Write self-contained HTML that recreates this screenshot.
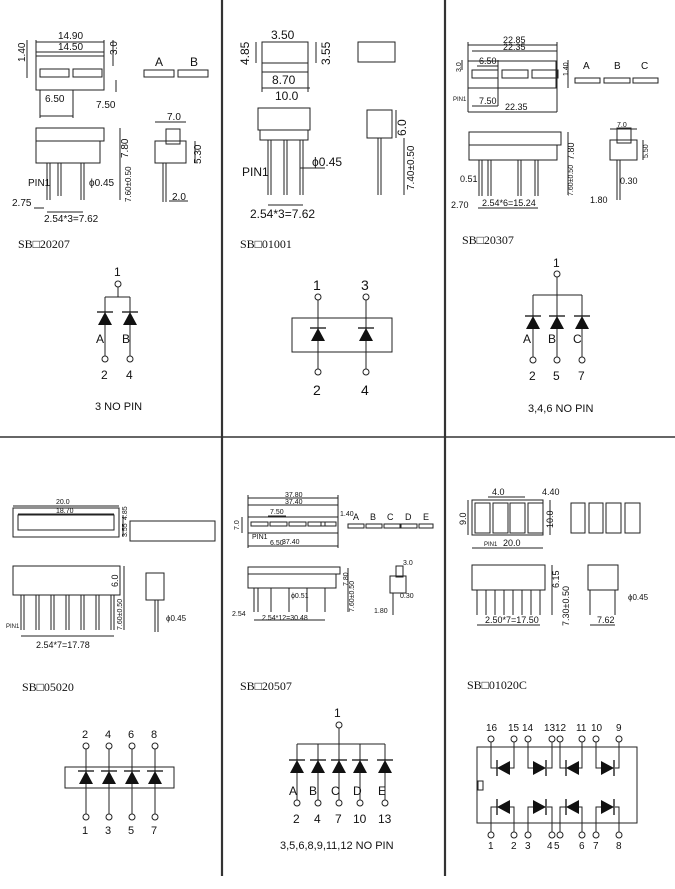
<!DOCTYPE html>
<html><head><meta charset="utf-8"><style>
html,body{margin:0;padding:0;background:#fff}
svg{display:block}
text{font-family:"Liberation Sans",sans-serif;fill:#111}
.s{font-size:9px}
.p1{font-size:10px}
.m{font-size:12px}
.l{font-family:"Liberation Serif","Noto Serif CJK SC",serif;font-size:12px}
</style></head><body>
<svg width="675" height="889" viewBox="0 0 675 889" xmlns="http://www.w3.org/2000/svg">
<defs>
<g id="du"><polygon points="-7,8 7,8 0,-5" fill="#111"/><line x1="-8" y1="-5" x2="8" y2="-5" stroke="#111" stroke-width="1.3"/></g>
<g id="dl"><polygon points="7,-7 7,7 -6,0" fill="#111"/><line x1="-6" y1="-8" x2="-6" y2="8" stroke="#111" stroke-width="1.3"/></g>
<g id="dr"><polygon points="-7,-7 -7,7 6,0" fill="#111"/><line x1="6" y1="-8" x2="6" y2="8" stroke="#111" stroke-width="1.3"/></g>
</defs>
<rect width="675" height="889" fill="#fff"/>
<g stroke="#333" stroke-width="2.2">
<line x1="222" y1="0" x2="222" y2="876"/>
<line x1="445" y1="0" x2="445" y2="876"/>
<line x1="0" y1="437" x2="675" y2="437" stroke-width="1.6"/>
</g>

<g fill="none" stroke="#222" stroke-width="1">
<rect x="36" y="56" width="68" height="34"/>
<rect x="40" y="69" width="29" height="8"/><rect x="73" y="69" width="29" height="8"/>
<line x1="36" y1="42" x2="104" y2="42"/><line x1="36" y1="52" x2="104" y2="52"/>
<line x1="36" y1="40" x2="36" y2="56"/><line x1="104" y1="40" x2="104" y2="56"/>
<line x1="40" y1="116" x2="73" y2="116"/><line x1="40" y1="90" x2="40" y2="118"/><line x1="73" y1="90" x2="73" y2="118"/>
<line x1="27" y1="40" x2="27" y2="78"/><line x1="113" y1="40" x2="113" y2="66"/><line x1="116" y1="80" x2="116" y2="92"/>
<rect x="144" y="70" width="30" height="7"/><rect x="178" y="70" width="30" height="7"/>
<rect x="36" y="128" width="68" height="13"/><rect x="36" y="141" width="64" height="22"/>
<line x1="47" y1="163" x2="47" y2="200"/><line x1="50" y1="163" x2="50" y2="200"/>
<line x1="58" y1="163" x2="58" y2="196"/><line x1="61" y1="163" x2="61" y2="196"/>
<line x1="81" y1="163" x2="81" y2="200"/><line x1="84" y1="163" x2="84" y2="200"/>
<line x1="120" y1="128" x2="120" y2="168"/><line x1="120" y1="168" x2="120" y2="200"/>
<line x1="47" y1="212" x2="83" y2="212"/><line x1="34" y1="208" x2="44" y2="208"/>
<rect x="155" y="141" width="31" height="22"/><rect x="166" y="129" width="14" height="15"/>
<line x1="163" y1="163" x2="163" y2="202"/><line x1="166" y1="163" x2="166" y2="202"/>
<line x1="155" y1="122" x2="186" y2="122"/><line x1="195" y1="141" x2="195" y2="163"/>
<line x1="169" y1="201" x2="188" y2="201"/>
<circle cx="118" cy="284" r="3"/><line x1="118" y1="287" x2="118" y2="297"/>
<line x1="105" y1="297" x2="130" y2="297"/>
<line x1="105" y1="297" x2="105" y2="356"/><line x1="130" y1="297" x2="130" y2="356"/>
<circle cx="105" cy="359" r="3"/><circle cx="130" cy="359" r="3"/>

<rect x="262" y="42" width="46" height="21"/>
<line x1="262" y1="72" x2="308" y2="72"/><line x1="262" y1="88" x2="310" y2="88"/>
<line x1="262" y1="63" x2="262" y2="92"/><line x1="308" y1="63" x2="308" y2="92"/>
<line x1="256" y1="42" x2="256" y2="63"/><line x1="316" y1="42" x2="316" y2="63"/>
<rect x="358" y="42" width="37" height="20"/>
<rect x="258" y="108" width="52" height="22"/><rect x="260" y="130" width="48" height="10"/>
<line x1="268" y1="140" x2="268" y2="195"/><line x1="271" y1="140" x2="271" y2="195"/>
<line x1="284" y1="140" x2="284" y2="195"/><line x1="287" y1="140" x2="287" y2="195"/>
<line x1="300" y1="140" x2="300" y2="195"/><line x1="303" y1="140" x2="303" y2="195"/>
<line x1="268" y1="205" x2="303" y2="205"/>
<rect x="367" y="110" width="25" height="28"/>
<line x1="378" y1="138" x2="378" y2="195"/><line x1="381" y1="138" x2="381" y2="195"/>
<line x1="396" y1="110" x2="396" y2="138"/><line x1="404" y1="138" x2="404" y2="195"/>
<line x1="300" y1="168" x2="325" y2="168"/>
<rect x="292" y="318" width="100" height="34"/>
<circle cx="318" cy="297" r="3"/><circle cx="366" cy="297" r="3"/>
<circle cx="318" cy="372" r="3"/><circle cx="366" cy="372" r="3"/>
<line x1="318" y1="300" x2="318" y2="369"/><line x1="366" y1="300" x2="366" y2="369"/>

<rect x="468" y="61" width="88" height="27"/>
<rect x="472" y="70" width="26" height="8"/><rect x="502" y="70" width="26" height="8"/><rect x="532" y="70" width="26" height="8"/>
<line x1="468" y1="45" x2="557" y2="45"/><line x1="472" y1="51" x2="557" y2="51"/>
<line x1="468" y1="42" x2="468" y2="112"/><line x1="557" y1="42" x2="557" y2="112"/>
<line x1="477" y1="66" x2="498" y2="66"/><line x1="498" y1="60" x2="498" y2="106"/>
<line x1="472" y1="106" x2="498" y2="106"/><line x1="468" y1="112" x2="557" y2="112"/>
<line x1="462" y1="60" x2="462" y2="70"/><line x1="568" y1="60" x2="568" y2="88"/>
<rect x="575" y="78" width="25" height="5"/><rect x="604" y="78" width="26" height="5"/><rect x="633" y="78" width="25" height="5"/>
<rect x="469" y="132" width="92" height="13"/><rect x="469" y="145" width="88" height="15"/>
<line x1="479" y1="160" x2="479" y2="196"/><line x1="482" y1="160" x2="482" y2="196"/>
<line x1="488" y1="160" x2="488" y2="196"/><line x1="491" y1="160" x2="491" y2="196"/>
<line x1="518" y1="160" x2="518" y2="196"/><line x1="521" y1="160" x2="521" y2="196"/>
<line x1="535" y1="160" x2="535" y2="196"/><line x1="538" y1="160" x2="538" y2="196"/>
<line x1="568" y1="132" x2="568" y2="195"/><line x1="478" y1="208" x2="538" y2="208"/>
<rect x="610" y="140" width="27" height="20"/><rect x="617" y="128" width="14" height="15"/>
<line x1="617" y1="160" x2="617" y2="200"/><line x1="620" y1="160" x2="620" y2="200"/>
<line x1="610" y1="129" x2="637" y2="129"/><line x1="643" y1="140" x2="643" y2="160"/>
<circle cx="557" cy="274" r="3"/><line x1="557" y1="277" x2="557" y2="295"/>
<line x1="533" y1="295" x2="582" y2="295"/>
<line x1="533" y1="295" x2="533" y2="357"/><line x1="557" y1="295" x2="557" y2="357"/><line x1="582" y1="295" x2="582" y2="357"/>
<circle cx="533" cy="360" r="3"/><circle cx="557" cy="360" r="3"/><circle cx="582" cy="360" r="3"/>

<rect x="13" y="508" width="106" height="29"/><rect x="18" y="515" width="96" height="15"/>
<line x1="13" y1="506" x2="119" y2="506"/><line x1="18" y1="514" x2="114" y2="514"/>
<line x1="123" y1="515" x2="123" y2="537"/>
<rect x="130" y="521" width="85" height="20"/>
<rect x="13" y="566" width="107" height="29"/>
<line x1="21" y1="595" x2="21" y2="630"/><line x1="36" y1="595" x2="36" y2="630"/><line x1="51" y1="595" x2="51" y2="630"/>
<line x1="66" y1="595" x2="66" y2="630"/><line x1="81" y1="595" x2="81" y2="630"/><line x1="96" y1="595" x2="96" y2="630"/><line x1="111" y1="595" x2="111" y2="630"/>
<line x1="24" y1="595" x2="24" y2="630"/><line x1="39" y1="595" x2="39" y2="630"/><line x1="54" y1="595" x2="54" y2="630"/>
<line x1="69" y1="595" x2="69" y2="630"/><line x1="84" y1="595" x2="84" y2="630"/><line x1="99" y1="595" x2="99" y2="630"/><line x1="114" y1="595" x2="114" y2="630"/>
<line x1="124" y1="566" x2="124" y2="630"/><line x1="21" y1="636" x2="114" y2="636"/>
<rect x="146" y="573" width="18" height="27"/><line x1="155" y1="600" x2="155" y2="632"/><line x1="158" y1="600" x2="158" y2="632"/>
<rect x="65" y="767" width="109" height="21"/>
<circle cx="86" cy="746" r="3"/><circle cx="109" cy="746" r="3"/><circle cx="132" cy="746" r="3"/><circle cx="155" cy="746" r="3"/>
<circle cx="86" cy="817" r="3"/><circle cx="109" cy="817" r="3"/><circle cx="132" cy="817" r="3"/><circle cx="155" cy="817" r="3"/>
<line x1="86" y1="749" x2="86" y2="814"/><line x1="109" y1="749" x2="109" y2="814"/><line x1="132" y1="749" x2="132" y2="814"/><line x1="155" y1="749" x2="155" y2="814"/>

<rect x="248" y="517" width="90" height="16"/>
<rect x="251" y="522" width="17" height="4"/><rect x="270" y="522" width="17" height="4"/><rect x="289" y="522" width="17" height="4"/><rect x="308" y="522" width="17" height="4"/><rect x="321" y="522" width="15" height="4"/>
<line x1="248" y1="498" x2="338" y2="498"/><line x1="248" y1="505" x2="338" y2="505"/>
<line x1="248" y1="495" x2="248" y2="548"/><line x1="338" y1="495" x2="338" y2="548"/>
<line x1="248" y1="546" x2="338" y2="546"/><line x1="268" y1="516" x2="286" y2="516"/>
<line x1="242" y1="517" x2="242" y2="533"/>
<rect x="348" y="524" width="16" height="4"/><rect x="366" y="524" width="16" height="4"/><rect x="384" y="524" width="16" height="4"/><rect x="401" y="524" width="16" height="4"/><rect x="419" y="524" width="14" height="4"/>
<rect x="248" y="567" width="92" height="7"/><rect x="248" y="574" width="88" height="14"/>
<line x1="254" y1="588" x2="254" y2="612"/><line x1="258" y1="588" x2="258" y2="612"/><line x1="271" y1="588" x2="271" y2="612"/>
<line x1="289" y1="588" x2="289" y2="612"/><line x1="307" y1="588" x2="307" y2="612"/><line x1="325" y1="588" x2="325" y2="612"/>
<line x1="348" y1="568" x2="348" y2="612"/><line x1="254" y1="620" x2="325" y2="620"/>
<rect x="390" y="576" width="16" height="17"/><rect x="396" y="566" width="7" height="11"/>
<line x1="393" y1="593" x2="393" y2="615"/>
<circle cx="339" cy="725" r="3"/><line x1="339" y1="728" x2="339" y2="744"/>
<line x1="297" y1="744" x2="385" y2="744"/>
<line x1="297" y1="744" x2="297" y2="800"/><line x1="318" y1="744" x2="318" y2="800"/><line x1="339" y1="744" x2="339" y2="800"/><line x1="360" y1="744" x2="360" y2="800"/><line x1="385" y1="744" x2="385" y2="800"/>
<circle cx="297" cy="803" r="3"/><circle cx="318" cy="803" r="3"/><circle cx="339" cy="803" r="3"/><circle cx="360" cy="803" r="3"/><circle cx="385" cy="803" r="3"/>

<rect x="472" y="500" width="71" height="35"/>
<rect x="475" y="503" width="15" height="30"/><rect x="493" y="503" width="15" height="30"/><rect x="510" y="503" width="15" height="30"/><rect x="528" y="503" width="15" height="30"/>
<line x1="468" y1="500" x2="468" y2="535"/><line x1="550" y1="500" x2="550" y2="535"/>
<line x1="472" y1="548" x2="543" y2="548"/><line x1="488" y1="497" x2="525" y2="497"/>
<rect x="571" y="503" width="14" height="30"/><rect x="589" y="503" width="14" height="30"/><rect x="606" y="503" width="15" height="30"/><rect x="625" y="503" width="15" height="30"/>
<rect x="472" y="565" width="73" height="25"/>
<line x1="477" y1="590" x2="477" y2="615"/><line x1="486" y1="590" x2="486" y2="615"/><line x1="495" y1="590" x2="495" y2="615"/><line x1="504" y1="590" x2="504" y2="615"/>
<line x1="513" y1="590" x2="513" y2="615"/><line x1="522" y1="590" x2="522" y2="615"/><line x1="531" y1="590" x2="531" y2="615"/><line x1="540" y1="590" x2="540" y2="615"/>
<line x1="552" y1="565" x2="552" y2="615"/><line x1="477" y1="625" x2="540" y2="625"/>
<rect x="588" y="565" width="30" height="25"/>
<line x1="590" y1="590" x2="590" y2="615"/><line x1="615" y1="590" x2="615" y2="615"/><line x1="590" y1="625" x2="615" y2="625"/>
<rect x="477" y="747" width="160" height="76"/>
<rect x="478" y="781" width="5" height="9"/>
<circle cx="491" cy="739" r="3"/><circle cx="514" cy="739" r="3"/><circle cx="528" cy="739" r="3"/><circle cx="552" cy="739" r="3"/>
<circle cx="560" cy="739" r="3"/><circle cx="582" cy="739" r="3"/><circle cx="596" cy="739" r="3"/><circle cx="619" cy="739" r="3"/>
<circle cx="491" cy="835" r="3"/><circle cx="514" cy="835" r="3"/><circle cx="528" cy="835" r="3"/><circle cx="552" cy="835" r="3"/>
<circle cx="560" cy="835" r="3"/><circle cx="582" cy="835" r="3"/><circle cx="596" cy="835" r="3"/><circle cx="619" cy="835" r="3"/>
<polyline points="491,742 491,768 497,768"/><polyline points="514,742 514,768 510,768"/>
<polyline points="528,742 528,768 534,768"/><polyline points="552,742 552,768 547,768"/>
<polyline points="560,742 560,768 566,768"/><polyline points="582,742 582,768 578,768"/>
<polyline points="596,742 596,768 602,768"/><polyline points="619,742 619,768 615,768"/>
<polyline points="491,832 491,807 497,807"/><polyline points="514,832 514,807 510,807"/>
<polyline points="528,832 528,807 534,807"/><polyline points="552,832 552,807 547,807"/>
<polyline points="560,832 560,807 566,807"/><polyline points="582,832 582,807 578,807"/>
<polyline points="596,832 596,807 602,807"/><polyline points="619,832 619,807 615,807"/>
</g>

<use href="#du" x="105" y="317"/><use href="#du" x="130" y="317"/>
<use href="#du" x="318" y="333"/><use href="#du" x="366" y="333"/>
<use href="#du" x="533" y="321"/><use href="#du" x="557" y="321"/><use href="#du" x="582" y="321"/>
<use href="#du" x="86" y="776"/><use href="#du" x="109" y="776"/><use href="#du" x="132" y="776"/><use href="#du" x="155" y="776"/>
<use href="#du" x="297" y="765"/><use href="#du" x="318" y="765"/><use href="#du" x="339" y="765"/><use href="#du" x="360" y="765"/><use href="#du" x="385" y="765"/>
<use href="#dl" x="503" y="768"/><use href="#dr" x="540" y="768"/><use href="#dl" x="572" y="768"/><use href="#dr" x="608" y="768"/>
<use href="#dl" x="503" y="807"/><use href="#dr" x="540" y="807"/><use href="#dl" x="572" y="807"/><use href="#dr" x="608" y="807"/>

<g class="p1">
<text x="58" y="39">14.90</text><text x="58" y="50">14.50</text>
<text x="45" y="102">6.50</text><text x="96" y="108">7.50</text>
<text transform="translate(25,62) rotate(-90)">1.40</text><text transform="translate(117,55) rotate(-90)">3.0</text>
<text x="167" y="120">7.0</text>
<text transform="translate(128,158) rotate(-90)">7.80</text>
<text transform="translate(131,202) rotate(-90)" style="font-size:8px">7.60±0.50</text>
<text transform="translate(201,164) rotate(-90)">5.30</text>
<text x="89" y="186">ϕ0.45</text><text x="28" y="186">PIN1</text>
<text x="12" y="206">2.75</text><text x="172" y="200">2.0</text>
<text x="44" y="222">2.54*3=7.62</text>
</g>
<text class="m" x="155" y="66">A</text><text class="m" x="190" y="66">B</text>
<text class="l" x="18" y="248">SB□20207</text>
<text class="m" x="114" y="276">1</text>
<text class="m" x="96" y="343">A</text><text class="m" x="122" y="343">B</text>
<text class="m" x="101" y="379">2</text><text class="m" x="126" y="379">4</text>
<text x="95" y="410" style="font-size:11px">3 NO PIN</text>

<g class="m">
<text x="271" y="39">3.50</text>
<text x="272" y="84">8.70</text><text x="275" y="100">10.0</text>
<text transform="translate(249,65) rotate(-90)">4.85</text><text transform="translate(330,65) rotate(-90)">3.55</text>
<text transform="translate(406,136) rotate(-90)">6.0</text>
<text transform="translate(414,190) rotate(-90)" style="font-size:10px">7.40±0.50</text>
<text x="312" y="166">ϕ0.45</text><text x="242" y="176">PIN1</text>
<text x="250" y="218">2.54*3=7.62</text>
</g>
<text class="l" x="240" y="248">SB□01001</text>
<g style="font-size:14px"><text x="313" y="290">1</text><text x="361" y="290">3</text>
<text x="313" y="395">2</text><text x="361" y="395">4</text></g>

<g class="s">
<text x="503" y="43">22.85</text><text x="503" y="50">22.35</text>
<text x="479" y="64">6.50</text><text x="479" y="104">7.50</text><text x="505" y="110">22.35</text>
<text transform="translate(461,72) rotate(-90)" style="font-size:7px">3.0</text>
<text transform="translate(568,76) rotate(-90)" style="font-size:7px">1.40</text>
<text x="453" y="101" style="font-size:6px">PIN1</text>
<text transform="translate(574,160) rotate(-90)">7.80</text>
<text transform="translate(573,196) rotate(-90)" style="font-size:7px">7.60±0.50</text>
<text x="617" y="127" style="font-size:7px">7.0</text>
<text transform="translate(648,158) rotate(-90)" style="font-size:7px">5.50</text>
<text x="460" y="182">0.51</text><text x="620" y="184">0.30</text>
<text x="451" y="208">2.70</text><text x="482" y="206">2.54*6=15.24</text><text x="590" y="203">1.80</text>
</g>
<g class="s" style="font-size:10px"><text x="583" y="69">A</text><text x="614" y="69">B</text><text x="641" y="69">C</text></g>
<text class="l" x="462" y="244">SB□20307</text>
<text class="m" x="553" y="267">1</text>
<text class="m" x="523" y="343">A</text><text class="m" x="548" y="343">B</text><text class="m" x="573" y="343">C</text>
<text class="m" x="529" y="380">2</text><text class="m" x="553" y="380">5</text><text class="m" x="578" y="380">7</text>
<text x="528" y="412" style="font-size:11px">3,4,6  NO PIN</text>

<g class="s">
<text x="56" y="504" style="font-size:7px">20.0</text><text x="56" y="513" style="font-size:7px">18.70</text>
<text transform="translate(127,537) rotate(-90)" style="font-size:7px">3.55</text>
<text transform="translate(127,520) rotate(-90)" style="font-size:7px">4.85</text>
<text transform="translate(118,587) rotate(-90)">6.0</text>
<text transform="translate(122,630) rotate(-90)" style="font-size:7px">7.60±0.50</text>
<text x="166" y="621" style="font-size:8px">ϕ0.45</text>
<text x="6" y="628" style="font-size:6px">PIN1</text>
<text x="36" y="648">2.54*7=17.78</text>
</g>
<text class="l" x="22" y="691">SB□05020</text>
<g style="font-size:11px">
<text x="82" y="738">2</text><text x="105" y="738">4</text><text x="128" y="738">6</text><text x="151" y="738">8</text>
<text x="82" y="834">1</text><text x="105" y="834">3</text><text x="128" y="834">5</text><text x="151" y="834">7</text>
</g>

<g class="s" style="font-size:7px">
<text x="285" y="497">37.80</text><text x="285" y="504">37.40</text>
<text x="270" y="514">7.50</text><text x="270" y="545">6.50</text><text x="282" y="544">37.40</text>
<text x="252" y="539">PIN1</text>
<text transform="translate(239,530) rotate(-90)">7.0</text>
<text x="340" y="516">1.40</text>
<text transform="translate(348,586) rotate(-90)">7.80</text>
<text transform="translate(354,612) rotate(-90)">7.60±0.50</text>
<text x="291" y="598">ϕ0.51</text>
<text x="232" y="616">2.54</text><text x="262" y="620">2.54*12=30.48</text>
<text x="403" y="565">3.0</text><text x="400" y="598">0.30</text><text x="374" y="613">1.80</text>
</g>
<g style="font-size:9px"><text x="353" y="520">A</text><text x="370" y="520">B</text><text x="387" y="520">C</text><text x="405" y="520">D</text><text x="423" y="520">E</text></g>
<text class="l" x="240" y="690">SB□20507</text>
<text class="m" x="334" y="717">1</text>
<g style="font-size:12px">
<text x="289" y="795">A</text><text x="309" y="795">B</text><text x="331" y="795">C</text><text x="353" y="795">D</text><text x="378" y="795">E</text>
<text x="293" y="823">2</text><text x="314" y="823">4</text><text x="335" y="823">7</text><text x="353" y="823">10</text><text x="378" y="823">13</text>
</g>
<text x="280" y="849" style="font-size:11px">3,5,6,8,9,11,12 NO PIN</text>

<g class="s">
<text x="492" y="495">4.0</text><text x="542" y="495">4.40</text>
<text transform="translate(466,525) rotate(-90)">9.0</text>
<text transform="translate(553,528) rotate(-90)">10.0</text>
<text x="484" y="546" style="font-size:6px">PIN1</text><text x="503" y="546">20.0</text>
<text transform="translate(559,588) rotate(-90)">6.15</text>
<text transform="translate(569,626) rotate(-90)">7.30±0.50</text>
<text x="628" y="600" style="font-size:8px">ϕ0.45</text>
<text x="485" y="623">2.50*7=17.50</text><text x="597" y="623">7.62</text>
</g>
<text class="l" x="467" y="689">SB□01020C</text>
<g style="font-size:10px">
<text x="486" y="731">16</text><text x="508" y="731">15</text><text x="522" y="731">14</text><text x="544" y="731">13</text>
<text x="555" y="731">12</text><text x="576" y="731">11</text><text x="591" y="731">10</text><text x="616" y="731">9</text>
<text x="488" y="849">1</text><text x="511" y="849">2</text><text x="525" y="849">3</text><text x="547" y="849">4</text>
<text x="554" y="849">5</text><text x="579" y="849">6</text><text x="593" y="849">7</text><text x="616" y="849">8</text>
</g>
</svg>
</body></html>
